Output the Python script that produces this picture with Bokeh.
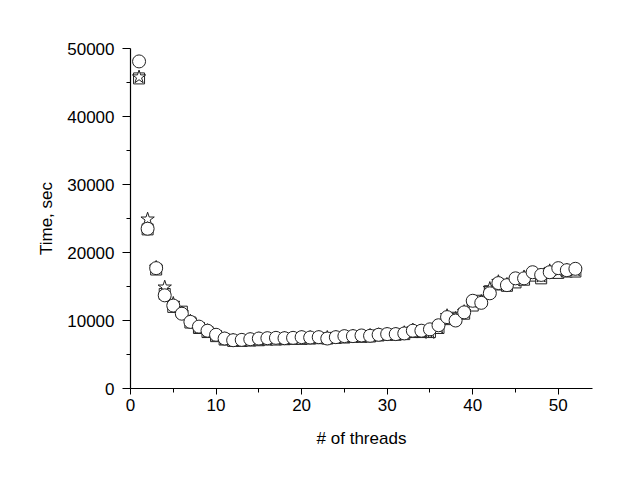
from bokeh.plotting import figure
from bokeh.models import Range1d, FixedTicker
from bokeh.embed import file_html
from bokeh.resources import INLINE

threads = list(range(1, 53))

time_circle = [48100, 23500, 17700, 13700, 12200, 11000, 9800, 9100, 8500, 7900,
               7350, 7100, 7150, 7250, 7350, 7400, 7450, 7400, 7450, 7550,
               7500, 7550, 7350, 7550, 7700, 7700, 7800, 7750, 7900, 8000,
               8000, 8100, 8500, 8500, 8700, 9300, 10500, 10000, 11200, 12900,
               12600, 14000, 15500, 15200, 16200, 16200, 17100, 16700, 17100, 17700,
               17400, 17600]

time_square = [45600, 23400, 17500, 13900, 12000, 11300, 9700, 8900, 8300, 7700,
               7200, 7000, 7000, 7050, 7100, 7200, 7200, 7250, 7300, 7300,
               7350, 7400, 7350, 7450, 7500, 7600, 7600, 7650, 7800, 7900,
               7900, 8000, 8300, 8300, 8300, 8900, 10200, 10400, 11000, 12200,
               12900, 14300, 15300, 15100, 15600, 16000, 16600, 16200, 17000, 17000,
               17200, 17200]

time_star = [45800, 24900, 17800, 14900, 12500, 11100, 9900, 9000, 8500, 7800,
             7300, 7100, 7100, 7200, 7300, 7300, 7400, 7400, 7400, 7500,
             7500, 7500, 7500, 7500, 7600, 7700, 7700, 7800, 7900, 8000,
             8000, 8200, 8600, 8400, 8200, 9000, 10700, 10300, 11300, 12700,
             12800, 14700, 15700, 15300, 15900, 16400, 16800, 16500, 17300, 17300,
             17400, 17400]

FONT = "Liberation Sans"

p = figure(width=628, height=486, output_backend="svg", toolbar_location=None,
           x_range=Range1d(0, 54), y_range=Range1d(0, 50000),
           min_border_left=130, min_border_right=36, min_border_top=48, min_border_bottom=98)
p.outline_line_color = None
p.grid.visible = False
p.background_fill_color = "white"
p.border_fill_color = "white"

p.scatter(threads, time_square, marker="square", size=11, fill_color="white",
          line_color="#222222", line_width=1)
p.scatter(threads, time_star, marker="star", size=14, fill_color="white",
          line_color="#222222", line_width=1)
p.scatter(threads, time_circle, marker="circle", size=13, fill_color="white",
          line_color="#222222", line_width=1)

for ax in (p.xaxis[0], p.yaxis[0]):
    ax.axis_line_color = "black"
    ax.axis_line_width = 1.2
    ax.major_tick_line_color = "black"
    ax.minor_tick_line_color = "black"
    ax.major_tick_in = 0
    ax.major_tick_out = 6
    ax.minor_tick_in = 0
    ax.minor_tick_out = 4
    ax.major_label_text_font = FONT
    ax.major_label_text_font_size = "17px"
    ax.major_label_text_color = "black"
    ax.axis_label_text_font = FONT
    ax.axis_label_text_font_size = "17px"
    ax.axis_label_text_font_style = "normal"
    ax.axis_label_text_color = "black"

p.yaxis.major_tick_out = 8
p.xaxis.ticker = FixedTicker(ticks=[0, 10, 20, 30, 40, 50], minor_ticks=[5, 15, 25, 35, 45])
p.yaxis.ticker = FixedTicker(ticks=[0, 10000, 20000, 30000, 40000, 50000],
                             minor_ticks=[5000, 15000, 25000, 35000, 45000])
p.xaxis.axis_label = "# of threads"
p.yaxis.axis_label = "Time, sec"
p.xaxis.major_label_standoff = 4
p.yaxis.major_label_standoff = 8
p.xaxis.axis_label_standoff = 15
p.yaxis.axis_label_standoff = 8

open("out.html", "w").write(file_html(p, INLINE))
